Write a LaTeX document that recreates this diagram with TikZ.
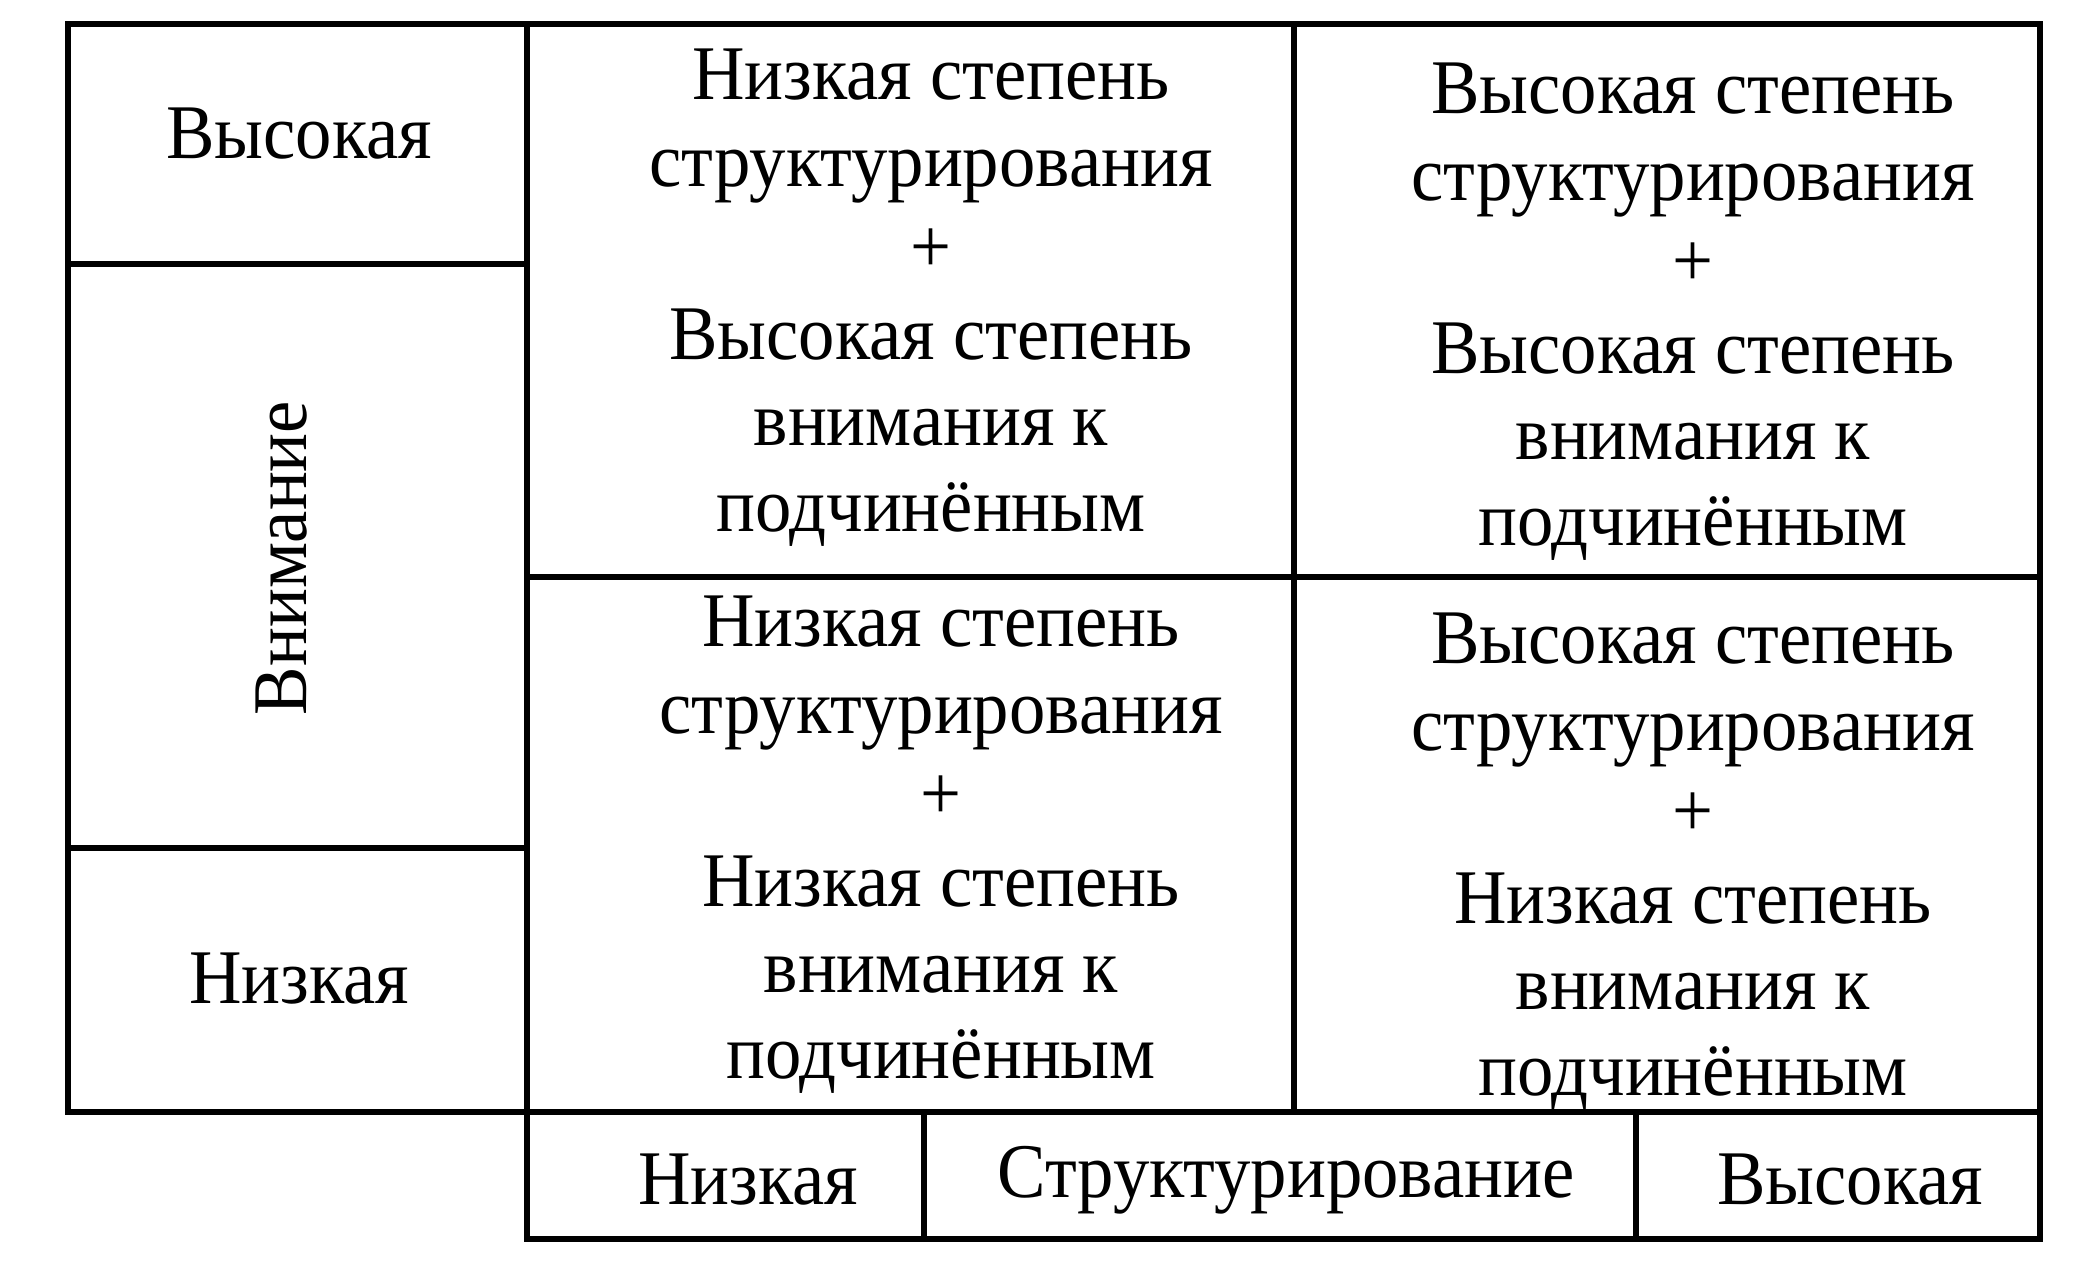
\documentclass[tikz,border=0pt]{standalone}
\usepackage{fontspec}
\setmainfont[FakeStretch=0.94]{Liberation Serif}
\usetikzlibrary{positioning}
\tikzstyle{frame} = [line width=0.65mm, line cap=rect]
\tikzstyle{lbl} = [inner sep=0pt, font=\fontsize{22pt}{24.6pt}\selectfont]
\tikzstyle{quad} = [lbl, align=center]

\begin{document}
\begin{tikzpicture}
    \useasboundingbox (0,0) rectangle (20.92,-12.62);
    % grid
    \draw [frame] (0.68,-0.24) rectangle (20.40,-11.12);
    \draw [frame] (5.27,-0.24) -- (5.27,-12.39);
    \draw [frame] (0.68,-2.64) -- (5.27,-2.64);
    \draw [frame] (0.68,-8.48) -- (5.27,-8.48);
    \draw [frame] (12.94,-0.24) -- (12.94,-11.12);
    \draw [frame] (5.27,-5.77) -- (20.40,-5.77);
    \draw [frame] (5.27,-11.12) rectangle (20.40,-12.39);
    \draw [frame] (9.24,-11.12) -- (9.24,-12.39);
    \draw [frame] (16.36,-11.12) -- (16.36,-12.39);
    % row labels
    \node [lbl] at (2.99,-1.34) (high) {Высокая};
    \node [lbl, rotate=90] at (2.82,-5.58) (attn) {Внимание};
    \node [lbl] at (2.99,-9.79) (low) {Низкая};
    % quadrants
    \node [quad] at (9.31,-2.98) (q1) {Низкая степень\\структурирования\\+\\Высокая степень\\внимания к\\подчинённым};
    \node [quad] at (16.93,-3.12) (q2) {Высокая степень\\структурирования\\+\\Высокая степень\\внимания к\\подчинённым};
    \node [quad] at (9.41,-8.45) (q3) {Низкая степень\\структурирования\\+\\Низкая степень\\внимания к\\подчинённым};
    \node [quad] at (16.93,-8.62) (q4) {Высокая степень\\структурирования\\+\\Низкая степень\\внимания к\\подчинённым};
    % column labels
    \node [lbl] at (7.48,-11.80) (colLow) {Низкая};
    \node [lbl] at (12.86,-11.80) (struct) {Структурирование};
    \node [lbl] at (18.50,-11.80) (colHigh) {Высокая};
\end{tikzpicture}
\end{document}
